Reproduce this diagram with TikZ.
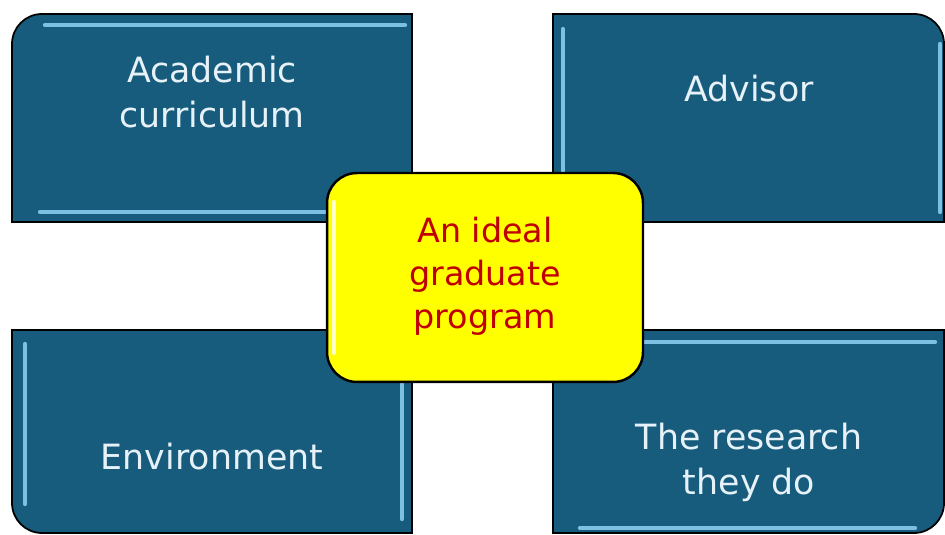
\documentclass[tikz,border=0pt]{standalone}
\usepackage{fontspec}
\setmainfont{DejaVu Sans}
\usetikzlibrary{positioning}

\definecolor{tileblue}{HTML}{175C7D}
\definecolor{glintblue}{HTML}{7DC0E3}
\definecolor{tileink}{HTML}{E6F2F8}
\definecolor{hubred}{HTML}{C00000}
\definecolor{hubyellow}{HTML}{FFFF00}

\begin{document}
\begin{tikzpicture}[
    x=0.02cm, y=0.02cm,
    tile/.style={draw=black, line width=1pt, fill=tileblue},
    glint/.style={draw=glintblue, line width=2.4pt, line cap=round},
    hub/.style={rectangle, rounded corners=0.6cm, draw=black, line width=1.4pt, fill=hubyellow, minimum width=6.32cm, minimum height=4.18cm},
    tiletext/.style={text=tileink, align=center, font=\fontsize{19.8pt}{25.6pt}\selectfont},
    hubtext/.style={text=hubred, align=center, font=\fontsize{19pt}{24.4pt}\selectfont}
]
\useasboundingbox (0,0) rectangle (945,534);

% Tiles
\draw[tile] (12,312) -- (12,490) arc[start angle=180, end angle=90, radius=30] -- (412,520) -- (412,312) -- cycle;
\draw[tile] (553,312) -- (553,520) -- (914,520) arc[start angle=90, end angle=0, radius=30] -- (944,312) -- cycle;
\draw[tile] (12,204) -- (12,31) arc[start angle=180, end angle=270, radius=30] -- (412,1) -- (412,204) -- cycle;
\draw[tile] (553,204) -- (553,1) -- (914,1) arc[start angle=270, end angle=360, radius=30] -- (944,204) -- cycle;

% Highlights
\draw[glint] (45,509) -- (405,509);
\draw[glint] (40,322) -- (405,322);
\draw[glint] (563,322) -- (563,505);
\draw[glint] (940,322) -- (940,490);
\draw[glint] (25,30) -- (25,190);
\draw[glint] (402,15) -- (402,190);
\draw[glint] (565,192) -- (935,192);
\draw[glint] (580,6) -- (915,6);

% Labels
\node[tiletext] (curriculum) at (212,442) {Academic\\curriculum};
\node[tiletext] (advisor) at (749,445) {Advisor};
\node[tiletext] (environment) at (212,77) {Environment};
\node[tiletext] (research) at (749,72) {The research\\they do};

% Centre
\node[hub] (ideal) at (485,256.5) {};
\draw[white, opacity=0.8, line width=2pt, line cap=round] ([shift={(8,-30)}]ideal.north west) -- ([shift={(8,30)}]ideal.south west);
\node[hubtext] (idealtext) at (485,257.5) {An ideal\\graduate\\program};
\end{tikzpicture}
\end{document}
